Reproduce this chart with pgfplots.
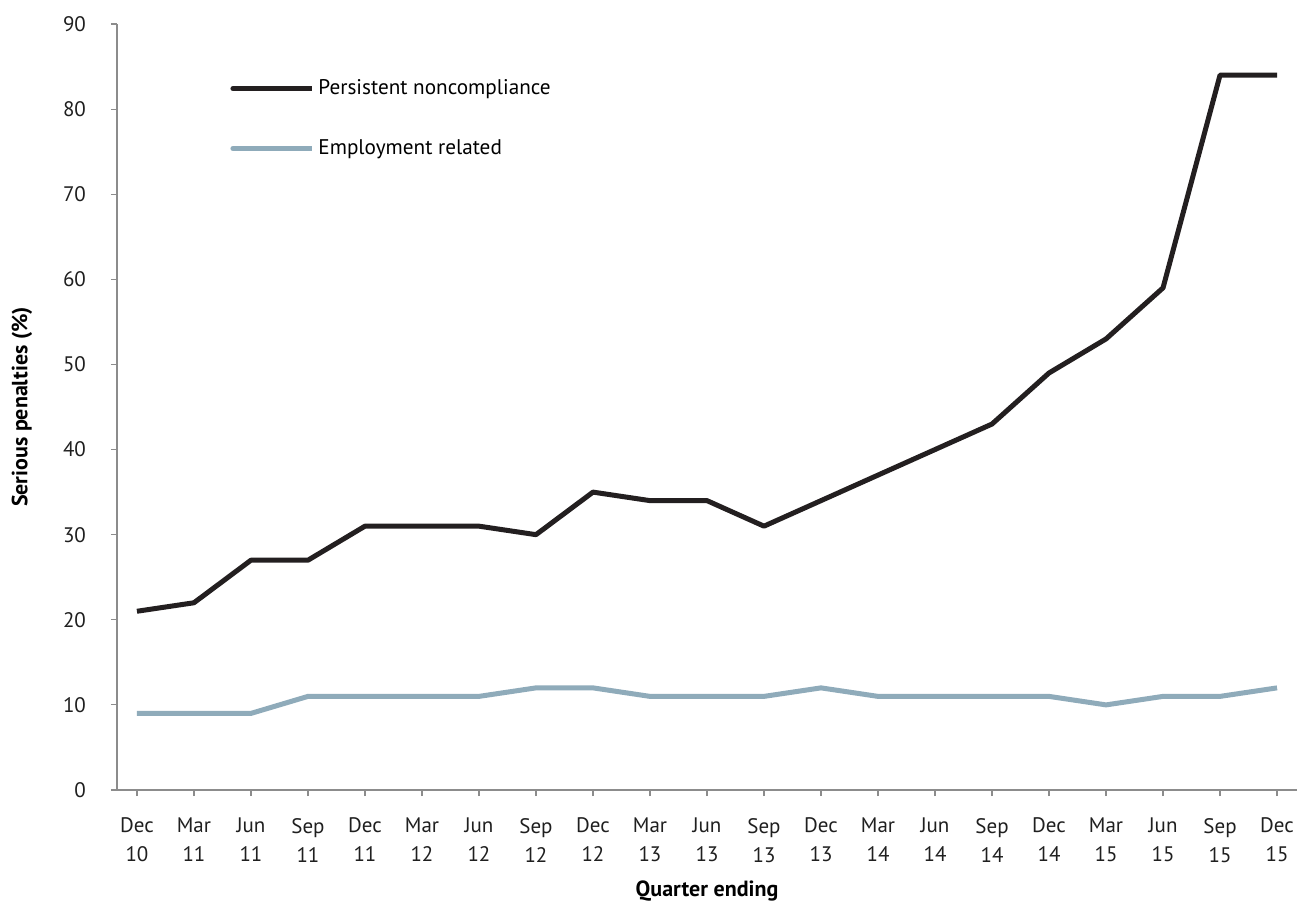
\documentclass[border=0pt]{standalone}
\usepackage{pgfplots}
\pgfplotsset{compat=1.18}
\usepackage{fontspec}
\setmainfont{PT Sans}
\definecolor{darkline}{HTML}{231F20}
\definecolor{blueline}{HTML}{8FABBA}
\definecolor{axisgrey}{HTML}{8C8C8C}
\begin{document}
\begin{tikzpicture}
\useasboundingbox (-58.5pt,-56pt) rectangle (590pt,395pt);
\begin{axis}[
  scale only axis, width=590pt, height=383pt,
  xmin=-0.35, xmax=20.35, ymin=0, ymax=90,
  axis lines=left,
  axis line style={-, draw=axisgrey, line width=0.6pt},
  xtick={0,...,20},
  xticklabels={{Dec\\10},{Mar\\11},{Jun\\11},{Sep\\11},{Dec\\11},{Mar\\12},{Jun\\12},{Sep\\12},{Dec\\12},{Mar\\13},{Jun\\13},{Sep\\13},{Dec\\13},{Mar\\14},{Jun\\14},{Sep\\14},{Dec\\14},{Mar\\15},{Jun\\15},{Sep\\15},{Dec\\15}},
  ytick={0,10,...,90},
  tick align=outside,
  major tick length=3pt,
  tick style={draw=axisgrey, line width=0.6pt},
  /pgf/number format/assume math mode=true,
  tick label style={font=\fontsize{10.5}{14.5}\selectfont, text=black!88},
  xticklabel style={align=center, yshift=-7.5pt},
  yticklabel style={xshift=-9pt},
  xlabel={\textbf{Quarter ending}},
  ylabel={\textbf{Serious penalties (\%)}},
  every axis x label/.style={at={(axis description cs:0.5,0)}, anchor=center, yshift=-50.5pt, font=\fontsize{11}{13}\selectfont},
  every axis y label/.style={at={(axis description cs:0,0.5)}, anchor=center, xshift=-47.5pt, rotate=90, font=\fontsize{11}{13}\selectfont},
  legend cell align=left,
  legend style={draw=none, fill=none, at={(axis description cs:0.0958,0.8766)}, anchor=west, inner sep=0pt, row sep=17pt, font=\fontsize{10.6}{12}\selectfont},
  legend image code/.code={\path (0pt,0pt) -- (39.5pt,0pt); \draw[#1, line cap=round] (0pt,0pt) -- (30pt,0pt);},
  line join=round,
]
\addplot[darkline, line width=2.5pt] coordinates {
(0,21) (1,22) (2,27) (3,27) (4,31) (5,31) (6,31) (7,30) (8,35) (9,34) (10,34)
(11,31) (12,34) (13,37) (14,40) (15,43) (16,49) (17,53) (18,59) (19,84) (20,84)};
\addlegendentry{Persistent noncompliance}
\addplot[blueline, line width=2.5pt] coordinates {
(0,9) (1,9) (2,9) (3,11) (4,11) (5,11) (6,11) (7,12) (8,12) (9,11) (10,11)
(11,11) (12,12) (13,11) (14,11) (15,11) (16,11) (17,10) (18,11) (19,11) (20,12)};
\addlegendentry{Employment related}
\end{axis}
\end{tikzpicture}
\end{document}
